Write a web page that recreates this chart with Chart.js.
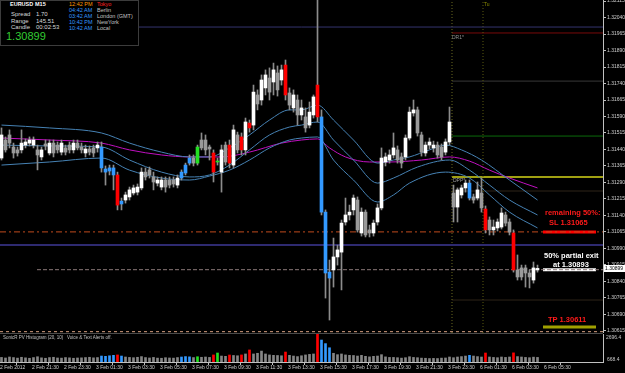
<!DOCTYPE html>
<html><head><meta charset="utf-8">
<script src="https://cdn.jsdelivr.net/npm/chart.js@4.4.1/dist/chart.umd.min.js"></script>
<style>
html,body{margin:0;padding:0;background:#000;overflow:hidden}
#wrap{position:relative;width:625px;height:373px;background:#000;font-family:"Liberation Sans",Arial,sans-serif}
#wrap canvas{position:absolute;left:0}
.t{position:absolute;white-space:pre;line-height:1}
</style></head><body>
<div id="wrap">
<canvas id="main" width="625" height="333" style="top:0;width:625px;height:333px"></canvas>
<div style="position:absolute;left:0;top:333px;width:603px;height:1px;background:#4a4a4a"></div>
<canvas id="vol" width="625" height="39" style="top:334px;width:625px;height:39px"></canvas>
</div>
<script>
// ---------------- data ----------------
const OPEN=[1.31401,1.31483,1.31506,1.31451,1.31438,1.31438,1.31460,1.31469,1.31460,1.31438,
1.31406,1.31465,1.31424,1.31469,1.31460,1.31428,1.31447,1.31460,1.31438,1.31469,
1.31451,1.31424,1.31442,1.31447,1.31447,1.31451,1.31351,1.31342,1.31356,1.31324,
1.31205,1.31210,1.31224,1.31242,1.31246,1.31265,1.31337,1.31347,1.31315,1.31287,
1.31269,1.31301,1.31301,1.31301,1.31278,1.31310,1.31333,1.31378,1.31401,1.31378,
1.31483,1.31483,1.31451,1.31424,1.31383,1.31337,1.31460,1.31460,1.31369,1.31506,
1.31497,1.31438,1.31560,1.31551,1.31688,1.31665,1.31720,1.31765,1.31747,1.31788,
1.31756,1.31824,1.31697,1.31629,1.31665,1.31597,1.31588,1.31551,1.31597,1.31733,
1.31588,1.31155,1.30882,1.30892,1.30951,1.30973,1.31110,1.31142,1.31165,1.31210,
1.31060,1.31155,1.31074,1.31060,1.31110,1.31174,1.31383,1.31392,1.31415,1.31438,
1.31406,1.31406,1.31492,1.31606,1.31620,1.31506,1.31424,1.31460,1.31447,1.31460,
1.31451,1.31428,1.31474,1.31242,1.31178,1.31233,1.31265,1.31287,1.31224,1.31219,
1.31242,1.31169,1.31119,1.31074,1.31083,1.31087,1.31142,1.31110,1.31060,1.30892,
1.30901,1.30901,1.30878,1.30846,1.30892];
const HIGH=[1.31538,1.31497,1.31529,1.31469,1.31451,1.31529,1.31488,1.31497,1.31497,1.31460,
1.31451,1.31483,1.31483,1.31483,1.31474,1.31483,1.31460,1.31474,1.31483,1.31483,
1.31469,1.31460,1.31456,1.31460,1.31474,1.31474,1.31365,1.31369,1.31369,1.31337,
1.31219,1.31246,1.31269,1.31278,1.31283,1.31356,1.31356,1.31360,1.31337,1.31315,
1.31315,1.31315,1.31315,1.31315,1.31324,1.31347,1.31378,1.31415,1.31415,1.31460,
1.31515,1.31506,1.31460,1.31438,1.31401,1.31460,1.31474,1.31483,1.31551,1.31519,
1.31515,1.31583,1.31574,1.31733,1.31711,1.31779,1.31802,1.31811,1.31833,1.31820,
1.31824,1.31847,1.31720,1.31711,1.31688,1.31665,1.31629,1.31656,1.31688,1.32143,
1.31620,1.31165,1.30937,1.31037,1.31005,1.31119,1.31219,1.31187,1.31233,1.31224,
1.31174,1.31165,1.31096,1.31119,1.31192,1.31447,1.31424,1.31438,1.31515,1.31456,
1.31424,1.31506,1.31633,1.31665,1.31633,1.31519,1.31474,1.31492,1.31478,1.31474,
1.31465,1.31488,1.31633,1.31278,1.31265,1.31278,1.31301,1.31301,1.31237,1.31292,
1.31310,1.31183,1.31133,1.31119,1.31124,1.31174,1.31155,1.31124,1.31074,1.30960,
1.30914,1.30914,1.30892,1.30928,1.30914];
const LOW=[1.31392,1.31428,1.31447,1.31401,1.31410,1.31424,1.31447,1.31456,1.31447,1.31347,
1.31392,1.31438,1.31415,1.31406,1.31424,1.31415,1.31415,1.31424,1.31424,1.31438,
1.31424,1.31406,1.31415,1.31406,1.31428,1.31337,1.31278,1.31324,1.31256,1.31165,
1.31165,1.31196,1.31210,1.31233,1.31233,1.31256,1.31301,1.31310,1.31256,1.31274,
1.31256,1.31246,1.31265,1.31269,1.31265,1.31301,1.31324,1.31369,1.31365,1.31369,
1.31438,1.31415,1.31392,1.31292,1.31369,1.31246,1.31369,1.31356,1.31356,1.31424,
1.31415,1.31415,1.31519,1.31529,1.31620,1.31642,1.31688,1.31665,1.31688,1.31683,
1.31733,1.31665,1.31620,1.31610,1.31551,1.31574,1.31519,1.31538,1.31583,1.31565,
1.31142,1.30764,1.30664,1.30814,1.30914,1.30801,1.31096,1.31119,1.31142,1.31064,
1.31046,1.31042,1.31042,1.31046,1.31096,1.31165,1.31365,1.31378,1.31401,1.31378,
1.31356,1.31392,1.31483,1.31592,1.31501,1.31410,1.31410,1.31442,1.31428,1.31401,
1.31392,1.31415,1.31460,1.31110,1.31110,1.31219,1.31246,1.31210,1.31196,1.31210,
1.31155,1.31060,1.31051,1.31051,1.31069,1.31078,1.31092,1.31051,1.30882,1.30846,
1.30846,1.30814,1.30810,1.30832,1.30882];
const CLOSE=[1.31506,1.31438,1.31469,1.31424,1.31424,1.31469,1.31474,1.31483,1.31483,1.31415,
1.31438,1.31456,1.31469,1.31424,1.31438,1.31469,1.31428,1.31438,1.31469,1.31447,
1.31438,1.31442,1.31428,1.31424,1.31460,1.31356,1.31337,1.31356,1.31324,1.31187,
1.31192,1.31233,1.31256,1.31265,1.31269,1.31337,1.31315,1.31324,1.31292,1.31301,
1.31301,1.31269,1.31278,1.31283,1.31310,1.31337,1.31369,1.31401,1.31378,1.31451,
1.31447,1.31438,1.31442,1.31337,1.31387,1.31438,1.31383,1.31378,1.31529,1.31438,
1.31438,1.31565,1.31538,1.31701,1.31647,1.31756,1.31779,1.31701,1.31802,1.31711,
1.31802,1.31688,1.31642,1.31688,1.31597,1.31629,1.31538,1.31610,1.31679,1.31588,
1.31155,1.30878,1.30855,1.30951,1.30983,1.31105,1.31142,1.31155,1.31219,1.31074,
1.31155,1.31051,1.31060,1.31105,1.31174,1.31401,1.31406,1.31415,1.31447,1.31392,
1.31378,1.31492,1.31610,1.31620,1.31515,1.31428,1.31460,1.31474,1.31460,1.31415,
1.31406,1.31474,1.31565,1.31178,1.31256,1.31265,1.31287,1.31219,1.31210,1.31256,
1.31174,1.31074,1.31074,1.31087,1.31110,1.31151,1.31105,1.31064,1.30892,1.30860,
1.30860,1.30878,1.30860,1.30901,1.30899];
const VOLUME=[1000,960,1030,990,950,1010,970,940,990,1050,
970,940,990,1010,960,950,990,970,940,960,
970,990,1010,970,990,1100,1080,1120,1150,1180,
1100,1030,1000,980,1010,1060,990,960,1000,950,
940,980,960,950,990,1030,1060,1040,990,1050,
1010,1030,1000,1180,1320,1100,1080,1175,1140,1120,
1180,1250,1540,1250,1300,1460,1250,1180,1150,1140,
1120,1390,1150,1100,1060,1120,1180,1220,1250,2696.4,
2260,2000,1700,1300,1200,1250,1180,1150,1140,1100,
1150,1080,1040,1080,1100,1200,1040,1000,1000,980,
950,980,1050,1000,980,950,940,920,930,920,
950,960,1030,980,1030,1060,1100,1150,1100,1060,
1030,1320,1030,1000,980,1030,1000,1030,1330,1060,
1030,1000,980,1020,1000];
const PV_RED=[29,53,57,60,62,71,79,121,128];
const PV_BLUE=[25,26,27,28,30,45,46,47,80,81,82,117];
const PV_GREEN=[49,54];

const MA_BARS=[0,12,25,32,40,47,55,62,70,75,79,82,86,92,97,105,112,117,122,127,134];
const MA_MAGENTA=[1.31492,1.31483,1.31469,1.31438,1.31415,1.31406,1.31406,1.31428,1.31469,1.31483,1.31488,1.31447,1.31406,1.31383,1.31383,1.31392,1.31406,1.31387,1.31346,1.31310,1.31265];
const UPPER_BARS=[0,12,25,32,40,47,52,57,62,67,72,75,79,83,88,94,98,102,107,111,115,120,127,134];
const BAND_UPPER=[1.31551,1.31538,1.31515,1.31469,1.31428,1.31406,1.31406,1.31447,1.31506,1.31574,1.31620,1.31620,1.31642,1.31574,1.31483,1.31378,1.31392,1.31406,1.31438,1.31460,1.31438,1.31392,1.31301,1.31210];
const MID_BARS=[0,12,25,32,40,47,52,57,62,67,72,75,79,83,88,94,98,104,112,117,122,127,134];
const BAND_MID=[1.31460,1.31456,1.31451,1.31392,1.31337,1.31315,1.31324,1.31369,1.31438,1.31506,1.31542,1.31551,1.31565,1.31483,1.31392,1.31287,1.31310,1.31360,1.31392,1.31346,1.31278,1.31210,1.31142];
const LOWER_BARS=[0,12,25,32,40,47,52,57,62,67,72,75,79,83,88,94,98,102,111,117,122,127,134];
const BAND_LOWER=[1.31369,1.31383,1.31401,1.31346,1.31310,1.31301,1.31319,1.31346,1.31392,1.31447,1.31483,1.31492,1.31497,1.31392,1.31301,1.31201,1.31233,1.31287,1.31337,1.31310,1.31233,1.31155,1.31083];

const PIVOT_LEVELS=[1.31970,1.31751,1.31501,1.31315,1.31251,1.30755];
const TOP_LEVEL=1.31997;
const SR_LEVEL=1.31005;
const SL_PRICE=1.31065;
const EXIT_PRICE=1.30893;
const TP_PRICE=1.30611;
const TP_MARK=1.30632;
const BID=1.30899;

const PRICE_TICKS=[1.30615,1.30690,1.30765,1.30840,1.30915,1.30990,1.31065,1.31140,1.31215,1.31290,1.31365,1.31440,1.31515,1.31590,1.31665,1.31740,1.31815,1.31890,1.31965,1.32040,1.32115];
const TIME_LABELS=["2 Feb 2012","2 Feb 21:30","2 Feb 23:30","3 Feb 01:30","3 Feb 03:30","3 Feb 05:30","3 Feb 07:30","3 Feb 09:30","3 Feb 11:30","3 Feb 13:30","3 Feb 15:30","3 Feb 17:30","3 Feb 19:30","3 Feb 21:30","3 Feb 23:30","6 Feb 01:30","6 Feb 03:30","6 Feb 05:30"];
const VOL_MIN=668.4, VOL_MAX=2696.4;

// ---------------- layout constants ----------------
const X_MIN=-0.375, X_MAX=150.375;
const P_MIN=1.30605, P_MAX=1.32120;
const WEEK_OPEN_BAR=112.625, TU_BAR=120.375, EXIT_LINE_START=8.875;
const MARK_X0=135.375, MARK_X1=148.625;
const FONT='Liberation Sans';

const COL={R:'#ff0000',B:'#3399ff',L:'#22e022'};
function pvCode(i){ if(PV_RED.includes(i))return 'R'; if(PV_BLUE.includes(i))return 'B'; if(PV_GREEN.includes(i))return 'L'; return null; }
const N=OPEN.length, bodyColor=[], volColor=[];
for(let i=0;i<N;i++){const c=pvCode(i); bodyColor.push(c?COL[c]:(CLOSE[i]>=OPEN[i]?'#ffffff':'#9a9a9a')); volColor.push(c?COL[c]:'#858585');}

function curve(xs,ys,color){return {type:'line',data:xs.map((x,k)=>({x:x,y:ys[k]})),borderColor:color,borderWidth:1,pointRadius:0,cubicInterpolationMode:'monotone',order:2};}
function hLine(p,x0,x1,color,w,dash){return {type:'line',data:[{x:x0,y:p},{x:x1,y:p}],borderColor:color,borderWidth:w,borderDash:dash||[],pointRadius:0,order:3};}
function vLine(x,color,dash){return {type:'line',data:[{x:x,y:P_MIN},{x:x,y:P_MAX}],borderColor:color,borderWidth:1,borderDash:dash||[],pointRadius:0,order:3};}

const pivotColors=['#7a0a0a','#383838','#0b6b0b','#a0a012','#2e2418','#2e2418'];
const pivotWidths=[1,1,1,2,1,1];
const datasets=[
 {type:'bar',data:OPEN.map((o,i)=>({x:i,y:[o,CLOSE[i]]})),backgroundColor:bodyColor,barThickness:3,minBarLength:1,grouped:false,order:0},
 {type:'bar',data:OPEN.map((o,i)=>({x:i,y:[LOW[i],HIGH[i]]})),backgroundColor:'#8c8c8c',barThickness:1,grouped:false,order:1},
 curve(UPPER_BARS,BAND_UPPER,'#4682b4'),
 curve(MID_BARS,BAND_MID,'#4682b4'),
 curve(LOWER_BARS,BAND_LOWER,'#4682b4'),
 curve(MA_BARS,MA_MAGENTA,'#c010c0'),
 hLine(TOP_LEVEL,X_MIN,X_MAX,'#34346e',1),
 hLine(SR_LEVEL,X_MIN,X_MAX,'#2e2a70',2),
 hLine(SL_PRICE,X_MIN,X_MAX,'#c04a1c',1,[6,3,2,3]),
 hLine(EXIT_PRICE,EXIT_LINE_START,X_MAX,'#8a7878',1,[4,2]),
 hLine(TP_PRICE,X_MIN,X_MAX,'#d8a080',1,[3,3]),
 hLine(SL_PRICE,MARK_X0,MARK_X1,'#ff0000',3),
 hLine(EXIT_PRICE,MARK_X0,MARK_X1,'#ffffff',3),
 hLine(TP_MARK,MARK_X0,MARK_X1,'#a0a000',3),
 vLine(WEEK_OPEN_BAR,'#6b6b20',[1,2]),
 vLine(TU_BAR,'#5a5a10',[1,2])
];
PIVOT_LEVELS.forEach((p,k)=>datasets.push(hLine(p,WEEK_OPEN_BAR,X_MAX,pivotColors[k],pivotWidths[k])));

new Chart(document.getElementById('main'),{
 type:'bar',
 data:{datasets:datasets},
 options:{
  responsive:false,animation:false,devicePixelRatio:1,events:[],
  layout:{padding:0},
  plugins:{legend:{display:false},tooltip:{enabled:false}},
  scales:{
   x:{type:'linear',min:X_MIN,max:X_MAX,display:false,offset:false},
   y:{type:'linear',position:'right',min:P_MIN,max:P_MAX,
      afterBuildTicks:s=>{s.ticks=PRICE_TICKS.map(v=>({value:v}));},
      afterFit:s=>{s.width=22;s.paddingTop=0;s.paddingBottom=0;},
      ticks:{autoSkip:false,padding:1,color:'#d0d0d0',font:{family:FONT,size:5},callback:v=>Number(v).toFixed(5)},
      grid:{drawOnChartArea:false,drawTicks:true,tickLength:3,color:'#c0c0c0'},
      border:{display:true,color:'#c0c0c0'}}
  }
 }
});

new Chart(document.getElementById('vol'),{
 type:'bar',
 data:{datasets:[{data:VOLUME.map((v,i)=>({x:i,y:v})),backgroundColor:volColor,barThickness:2,grouped:false}]},
 options:{
  responsive:false,animation:false,devicePixelRatio:1,events:[],
  layout:{padding:0},
  plugins:{legend:{display:false},tooltip:{enabled:false}},
  scales:{
   x:{type:'linear',min:X_MIN,max:X_MAX,offset:false,
      afterBuildTicks:s=>{s.ticks=TIME_LABELS.map((_,k)=>({value:8*k+X_MIN}));},
      afterFit:s=>{s.height=11;s.paddingLeft=0;s.paddingRight=0;},
      ticks:{autoSkip:false,maxRotation:0,minRotation:0,align:'start',padding:0,color:'#d0d0d0',font:{family:FONT,size:5},callback:(v,i)=>TIME_LABELS[i]},
      grid:{drawOnChartArea:false,drawTicks:true,tickLength:3,color:'#c0c0c0'},
      border:{display:true,color:'#c0c0c0'}},
   y:{type:'linear',position:'right',min:VOL_MIN,max:VOL_MAX,
      ticks:{display:false},grid:{display:false},
      border:{display:true,color:'#c0c0c0'},
      afterFit:s=>{s.width=22;s.paddingTop=0;s.paddingBottom=0;}}
  }
 }
});

// ---------------- text overlays ----------------
const wrap=document.getElementById('wrap');
function box(l,t,w,h,bg,border){const d=document.createElement('div');d.style.cssText='position:absolute;left:'+l+'px;top:'+t+'px;width:'+w+'px;height:'+h+'px;background:'+bg+';box-sizing:border-box;'+(border?'border:1px solid '+border+';':'');wrap.appendChild(d);return d;}
function txt(s,l,cy,size,color,bold){const d=document.createElement('div');d.className='t';d.textContent=s;d.style.left=l+'px';d.style.top=(cy-size/2)+'px';d.style.fontSize=size+'px';d.style.color=color;if(bold)d.style.fontWeight='bold';wrap.appendChild(d);return d;}

box(0,0,139,46,'#000','#3c3c3c');
txt('EURUSD',10,5,5.5,'#ffffff',true); txt('M15',35,5,5.5,'#ffffff',true);
txt('Spread',11,14,6,'#d8d8d8'); txt('1.70',36,14,6,'#d8d8d8');
txt('Range',11,20.5,6,'#d8d8d8'); txt('145.51',36,20.5,6,'#d8d8d8');
txt('Candle',11,27,6,'#d8d8d8'); txt('00:02:53',36,27,6,'#d8d8d8');
txt(BID.toFixed(5),6,36.5,11,'#33cc33');
const clockTimes=['12:42 PM','04:42 AM','03:42 AM','10:42 PM','10:42 AM'];
const clockNames=['Tokyo','Berlin','London (GMT)','NewYork','Local'];
clockTimes.forEach((t,k)=>{txt(t,69,5+k*6,5.5,k===0?'#ff9900':'#3399ff'); txt(clockNames[k],97,5+k*6,5.5,k===0?'#ff2020':'#c0c0c0');});

txt('remaining 50%:',545,213,7.5,'#ff1a1a',true);
txt('SL '+SL_PRICE.toFixed(5),549,223,7.5,'#ff1a1a',true);
txt('50% partial exit',544,256,7.5,'#ffffff',true);
txt('at '+EXIT_PRICE.toFixed(5),553,265,7.5,'#ffffff',true);
txt('TP '+TP_PRICE.toFixed(5),548,320,7.5,'#ff1a1a',true);
txt('DR1*',452,37,5,'#909090');
txt('DPP*',453,180,5,'#a0a0a0');
txt('Tu',484,4,5,'#8a8a00');
txt('SonicR PV Histogram (20, 10)   Voice & Text Alerts off.',3,338,4.5,'#c0c0c0');
txt(VOL_MAX.toFixed(1),606,337,5,'#c8c8c8');
txt(VOL_MIN.toFixed(1),607,359,5,'#c8c8c8');
box(604,265,21,7,'#ffffff');
txt(BID.toFixed(5),605,268.5,5,'#000000');
</script>
</body></html>
